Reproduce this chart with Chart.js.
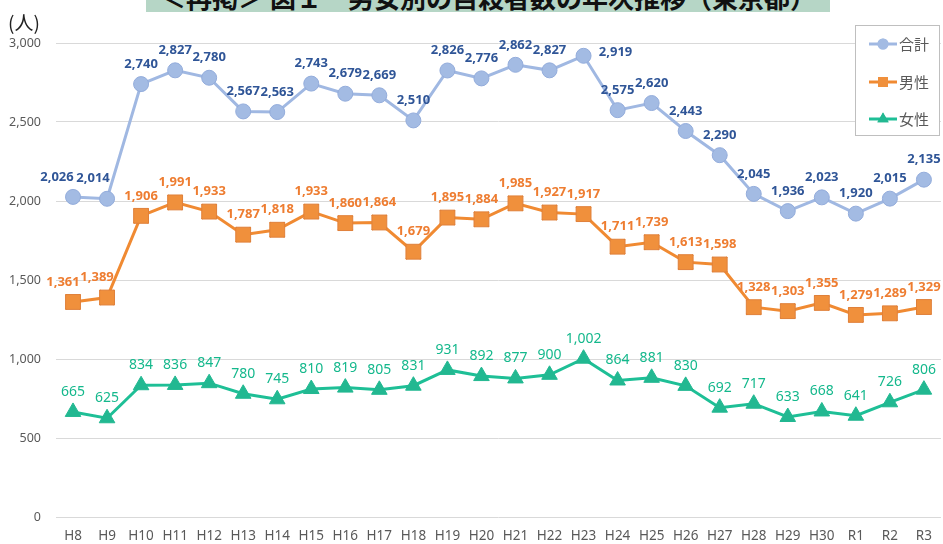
<!DOCTYPE html>
<html>
<head>
<meta charset="utf-8">
<script src="https://cdn.jsdelivr.net/npm/chart.js@4"></script>
<style>
  body { margin: 0; background: #fff; }
  #wrap { position: relative; width: 943px; height: 544px; overflow: hidden; }
  #title {
    position: absolute; left: 146px; top: 0; width: 684px; height: 12px;
    background: #b6d6c6; overflow: hidden;
  }
  #title span {
    position: absolute; left: 0; right: 0; top: -22px; text-align: center;
    font: bold 26px "Noto Sans CJK JP", sans-serif; color: #111; white-space: nowrap;
  }
</style>
</head>
<body>
<div id="wrap">
  <canvas id="chart" width="943" height="544"></canvas>
  <div id="title"><span>＜再掲＞ 図１　男女別の自殺者数の年次推移（東京都）</span></div>
</div>
<script>
// data
const years = ['H8','H9','H10','H11','H12','H13','H14','H15','H16','H17','H18','H19','H20',
  'H21','H22','H23','H24','H25','H26','H27','H28','H29','H30','R1','R2','R3']
const total = [2026,2014,2740,2827,2780,2567,2563,2743,2679,2669,2510,2826,2776,
  2862,2827,2919,2575,2620,2443,2290,2045,1936,2023,1920,2015,2135]
const male = [1361,1389,1906,1991,1933,1787,1818,1933,1860,1864,1679,1895,1884,
  1985,1927,1917,1711,1739,1613,1598,1328,1303,1355,1279,1289,1329]
const female = [665,625,834,836,847,780,745,810,819,805,831,931,892,
  877,900,1002,864,881,830,692,717,633,668,641,726,806]
const seriesNames = ['合計', '男性', '女性']
const yTicks = [0, 500, 1000, 1500, 2000, 2500, 3000]

const BLUE = '#a0b8e2', ORANGE = '#f08a32', GREEN = '#1ebf96'
const latin = '"Noto Sans", "Noto Sans CJK JP", sans-serif'

// value labels above the points
const labelPlugin = {
  id: 'valueLabels',
  afterDatasetsDraw(chart) {
    const ctx = chart.ctx
    const styles = [
      { ds: 0, color: '#2f5597', font: 'bold 13px ' + latin },
      { ds: 1, color: '#ee7d31', font: 'bold 13px ' + latin },
      { ds: 3, color: '#14b88c', font: '14px ' + latin }
    ]
    ctx.save()
    ctx.textAlign = 'center'
    ctx.textBaseline = 'middle'
    styles.forEach(s => {
      const meta = chart.getDatasetMeta(s.ds)
      const data = chart.data.datasets[s.ds].data
      ctx.fillStyle = s.color
      ctx.font = s.font
      meta.data.forEach((pt, i) => {
        let dx = 0, dy = -20
        // a couple of labels sit beside the point in the original
        if (s.ds === 0 && years[i] === 'H23') { dx = 32; dy = -4 }
        if (s.ds === 0 && i < 2) dx = i === 0 ? -16 : -14
        if (s.ds === 1 && i < 2) dx = -10
        ctx.fillText(data[i].toLocaleString('en-US'), pt.x + dx, pt.y + dy)
      })
    })
    ctx.restore()
  }
}

// unit label and legend box placed inside the plot like the original
const decorPlugin = {
  id: 'decor',
  afterDraw(chart) {
    const ctx = chart.ctx
    ctx.save()
    ctx.fillStyle = '#222'
    ctx.font = '19px "Noto Sans CJK JP", sans-serif'
    ctx.textBaseline = 'middle'
    ctx.fillText('(人)', 8, 23)

    const bx = 855.5, by = 25.5, bw = 84, bh = 110
    ctx.fillStyle = '#fff'
    ctx.fillRect(bx, by, bw, bh)
    ctx.strokeStyle = '#bfbfbf'
    ctx.lineWidth = 1
    ctx.strokeRect(bx, by, bw, bh)

    const rows = [
      { y: 44, color: BLUE, style: 'circle', r: 5.5, fill: '#a3bbe3' },
      { y: 82, color: ORANGE, style: 'rect', r: 7, fill: '#f0903c' },
      { y: 119, color: GREEN, style: 'triangle', r: 6.5, fill: '#22b891' }
    ]
    rows.forEach((row, i) => {
      ctx.strokeStyle = row.color
      ctx.lineWidth = 3
      ctx.beginPath()
      ctx.moveTo(869, row.y)
      ctx.lineTo(897, row.y)
      ctx.stroke()
      ctx.fillStyle = row.fill
      Chart.helpers.drawPoint(ctx, { pointStyle: row.style, radius: row.r, borderWidth: 0 }, 883, row.y)
      ctx.fill()
      ctx.fillStyle = '#595959'
      ctx.font = '15px "Noto Sans CJK JP", sans-serif'
      ctx.textBaseline = 'middle'
      ctx.fillText(seriesNames[i], 899, row.y)
    })
    ctx.restore()
  }
}

new Chart(document.getElementById('chart'), {
  type: 'line',
  data: {
    labels: years,
    datasets: [
      {
        label: seriesNames[0], data: total,
        borderColor: BLUE, borderWidth: 3,
        pointStyle: 'circle', pointRadius: 7.5,
        pointBackgroundColor: '#a3bbe3', pointBorderColor: '#93acdb', pointBorderWidth: 1
      },
      {
        label: seriesNames[1], data: male,
        borderColor: ORANGE, borderWidth: 3,
        pointStyle: 'rect', pointRadius: 10.5,
        pointBackgroundColor: '#f0903c', pointBorderColor: '#e0803a', pointBorderWidth: 1
      },
      {
        // the X drawn over the orange squares
        label: 'x', data: male, showLine: false,
        pointStyle: 'crossRot', pointRadius: 10.5,
        pointBorderColor: '#c9712e', pointBorderWidth: 1.5
      },
      {
        label: seriesNames[2], data: female,
        borderColor: GREEN, borderWidth: 3,
        pointStyle: 'triangle', pointRadius: 9,
        pointBackgroundColor: '#22b891', pointBorderColor: '#22b891', pointBorderWidth: 1
      }
    ]
  },
  options: {
    responsive: false,
    animation: false,
    clip: false,
    layout: { autoPadding: false, padding: { top: 43, right: 1, left: 0, bottom: 0 } },
    plugins: {
      legend: { display: false },
      tooltip: { enabled: false }
    },
    scales: {
      x: {
        offset: true,
        grid: { display: false, drawTicks: false },
        border: { display: false },
        ticks: { color: '#595959', font: { family: latin, size: 13.5 }, padding: 11, maxRotation: 0, autoSkip: false },
        afterFit(scale) { scale.height = 27 }
      },
      y: {
        min: 0, max: 3000,
        afterBuildTicks(scale) { scale.ticks = yTicks.map(v => ({ value: v })) },
        grid: { color: '#d9d9d9', lineWidth: 1, drawTicks: false },
        border: { display: false },
        ticks: {
          color: '#595959', font: { family: latin, size: 12.5 }, padding: 15,
          callback: v => v.toLocaleString('en-US')
        },
        afterFit(scale) { scale.width = 56 }
      }
    }
  },
  plugins: [labelPlugin, decorPlugin]
})
</script>
</body>
</html>
